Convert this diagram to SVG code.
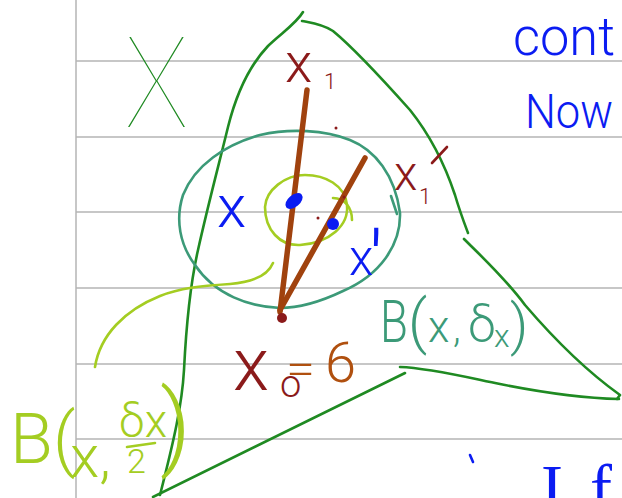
<svg xmlns="http://www.w3.org/2000/svg" width="622" height="498" viewBox="0 0 622 498">
<style>
.rule{stroke:#b5b5b5;stroke-width:1.5;fill:none}
.ink{fill:none;stroke-width:2.6;stroke-linecap:round;stroke-linejoin:round}
.dg{stroke:#1f8a22}
.teal{stroke:#3c9a78}
.lg{stroke:#a4cd22}
.br{stroke:#a0420e;stroke-width:5.5}
.t{font-family:Roboto,"Liberation Sans",sans-serif;font-weight:300}
.blue{fill:#0b1cf2}
.red{fill:#8b1a1a}
.brown{fill:#b0500f}
</style>
<rect width="622" height="498" fill="#fff"/>
<g id="paper">
<line class="rule" x1="76" y1="0" x2="76" y2="498"/>
<line class="rule" x1="76" y1="61" x2="622" y2="61"/>
<line class="rule" x1="76" y1="137" x2="622" y2="137"/>
<line class="rule" x1="76" y1="212" x2="622" y2="212"/>
<line class="rule" x1="76" y1="288" x2="622" y2="288"/>
<line class="rule" x1="76" y1="364" x2="622" y2="364"/>
<line class="rule" x1="76" y1="439" x2="622" y2="439"/>
</g>
<g id="setX">
<path class="ink dg" d="M303,12 C296,24 280,34 268,46 C250,65 236,95 228,127 C220,160 208,205 198,250 C190,285 186,330 184,370 C182,405 174,440 160,495"/>
<path class="ink dg" d="M302,21 C312,23 322,24 333,31 C350,45 385,82 410,110 C430,135 445,165 455,195 C460,212 465,225 468,233"/>
<path class="ink dg" d="M464,239 C480,255 505,278 525,305 C555,340 585,370 620,395 L617,399"/>
<path class="ink dg" d="M619,399 C580,398 540,392 500,384 C470,378 430,368 400,367"/>
<path class="ink dg" d="M405,373 L153,497"/>
<text x="125" y="127" font-family="Lato,Roboto,sans-serif" font-size="129" font-weight="200" textLength="63" lengthAdjust="spacingAndGlyphs" fill="#1f8a22">X</text>
</g>
<g id="ballDelta">
<path class="ink teal" d="M400,213 C401,245 380,275 343,291 C320,302 300,308 280,308 C250,307 215,295 195,265 C180,245 175,220 183,195 C195,165 225,145 260,135 C290,128 325,130 350,140 C375,150 395,175 400,213 Z"/>
<path class="ink teal" d="M391,196 L397,214"/>
<text class="t" y="342" font-size="60" fill="#3c9a78"><tspan x="380" textLength="28" lengthAdjust="spacingAndGlyphs">B</tspan><tspan x="408">(</tspan><tspan x="428" font-size="44">x</tspan><tspan x="453" font-size="40">,</tspan><tspan x="468" font-size="50">δ</tspan><tspan x="494" y="347" font-size="32">x</tspan><tspan x="510" y="344" font-size="56">)</tspan></text>
</g>
<g id="ballHalf">
<path class="ink lg" d="M265,207 C266,190 285,175 305,175 C325,175 345,185 347,205 C349,225 330,243 300,245 C280,246 265,230 265,207 Z"/>
<path class="ink lg" d="M333,198 C345,198 352,208 352,220"/>
<path class="ink lg" d="M273,263 C268,275 255,282 230,284 C200,286 180,288 160,296 C125,310 100,335 95,367"/>
<g class="t" fill="#a4cd22">
<text x="10" y="463" font-size="70">B(</text>
<text x="70" y="477" font-size="60">x,</text>
<text x="119" y="437" font-size="46">δx</text>
<text x="127" y="473" font-size="34">2</text>
<text x="160" y="458" font-size="95">)</text>
</g>
<path class="ink lg" d="M127,447 L155,443"/>
</g>
<g id="segments">
<line class="ink br" x1="307" y1="90" x2="280" y2="312"/>
<line class="ink br" x1="365" y1="158" x2="280" y2="310"/>
<circle cx="282" cy="318" r="5" fill="#8b1a1a"/>
<ellipse cx="294" cy="201" rx="10" ry="6" transform="rotate(-40 294 201)" fill="#0b1cf2"/>
<circle cx="333" cy="224" r="6" fill="#0b1cf2"/>
<circle cx="336" cy="128" r="1.5" fill="#8b1a1a"/>
<circle cx="318" cy="218" r="1.5" fill="#8b1a1a"/>
<circle cx="344" cy="197" r="1.5" fill="#8b1a1a"/>
<path class="ink" d="M432,163 L447,147" stroke="#8b1a1a" stroke-width="5"/>
</g>
<g id="labels">
<text class="t red" y="82" font-size="56"><tspan x="285">x</tspan><tspan x="324" y="89" font-size="22">1</tspan></text>
<text class="t red" y="190" font-size="48"><tspan x="394">x</tspan><tspan x="419" y="204" font-size="22">1</tspan></text>
<text class="t blue" x="217" y="227" font-size="60">x</text>
<text class="t blue" y="275" font-size="50"><tspan x="349">x</tspan><tspan x="369" y="291" font-size="84">′</tspan></text>
<text class="t blue" x="513" y="55" font-size="53" textLength="102" lengthAdjust="spacingAndGlyphs">cont</text>
<text class="t blue" x="525" y="128" font-size="49" textLength="88" lengthAdjust="spacingAndGlyphs">Now</text>
<text class="t" y="390"><tspan class="red" x="233" font-size="74">x</tspan><tspan class="red" x="280" y="397" font-size="38">o</tspan></text>
<text class="t brown" x="286" y="384" font-size="44" textLength="29" lengthAdjust="spacingAndGlyphs">=</text>
<text class="t brown" x="325" y="382" font-size="56">6</text>
<path class="ink" d="M470,455 L473,462" stroke="#0b1cf2" stroke-width="3"/>
<text y="510" font-family="'Liberation Serif',serif" font-size="66" class="blue"><tspan x="541">I</tspan><tspan x="590">f</tspan></text>
</g>
</svg>
